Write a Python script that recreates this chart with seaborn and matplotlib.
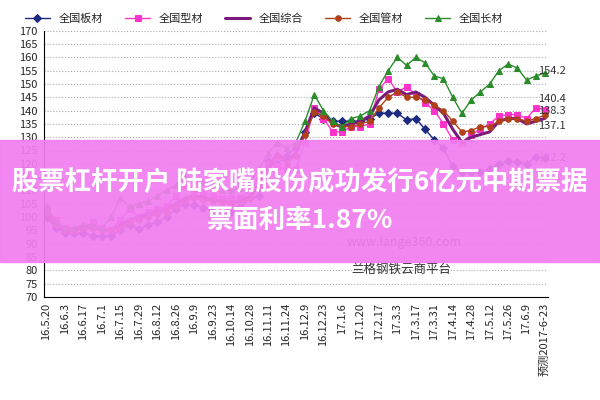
import pandas as pd
import matplotlib
matplotlib.use('Agg')
import matplotlib.pyplot as plt
import seaborn as sns

# 标签（每两周一个）
tick_labels = ['16.5.20', '16.6.3', '16.6.17', '16.7.1', '16.7.15', '16.7.29', '16.8.12',
               '16.8.26', '16.9.9', '16.9.23', '16.10.14', '16.10.28', '16.11.11', '16.11.24',
               '16.12.9', '16.12.23', '17.1.6', '17.1.20', '17.2.17', '17.3.3', '17.3.17',
               '17.3.31', '17.4.14', '17.4.28', '17.5.12', '17.5.26', '17.6.9', '预测2017-6-23']

banc = [100, 96, 94, 94, 94, 93, 93, 93, 95, 97,
        95.5, 97, 98, 100, 103, 105, 104.5, 103.5, 102.5, 102,
        102, 104, 107, 108, 121, 120, 123, 126, 132, 139,
        137, 136, 136, 136, 136, 137, 139, 139, 139, 136.5,
        137, 133, 129, 126, 119, 117, 117, 117, 118, 120,
        121, 120.5, 120, 122.5, 122.2]
xingc = [103, 99, 96, 95, 96, 98, 96, 95, 99, 103,
         100, 102, 103, 104, 108, 112, 110, 109, 108, 107,
         107, 107, 110, 114, 120, 119, 118, 118, 128, 141,
         137, 132, 132, 134, 134, 135, 148, 152, 147, 149,
         146, 143, 140, 135, 129, 128, 131, 133, 135, 138,
         138.5, 138.5, 137, 141, 140.4]
zongh = [102, 97, 95, 95, 96, 96, 95, 95, 97, 99,
         100, 101, 102, 103, 105, 107, 108, 107.5, 106.5, 106,
         105.5, 106, 108, 112, 118, 124, 121, 124, 132, 141,
         139, 135, 134, 135, 136, 138, 144, 147, 148, 146,
         147, 145, 142, 139, 133, 128, 130, 131, 132, 136,
         137, 137, 135, 136, 137.1]
guanc = [102, 97, 95, 95, 96, 96, 95, 95, 96, 98,
         99, 100, 101, 102, 104, 106, 107, 106.5, 106, 105.5,
         105, 105.5, 107, 111, 117, 123, 120, 123, 131, 139.5,
         138, 135, 134, 134, 135, 136, 141, 145, 147, 145,
         145, 144, 142, 140, 136, 132, 132.5, 134, 134, 136,
         137, 137, 136, 137, 138.3]
changc = [104, 98, 96, 96, 97, 97, 96, 100, 107, 104,
          105, 106, 108, 110, 112, 115, 114, 113, 112, 110,
          110, 111, 113, 118, 124, 128, 126, 128, 136, 146,
          140, 136, 134, 137, 138, 140, 149, 155, 160, 157,
          160, 158, 153, 152, 145, 139, 144, 147, 150, 155,
          157.5, 156, 151.5, 153, 154.2]

# 名称, 数据, 颜色, 标记, 线宽, 末端标注偏移
series = [('全国板材', banc, '#1c2a80', 'D', 1.0, 0),
          ('全国型材', xingc, '#ff33cc', 's', 1.0, 4),
          ('全国综合', zongh, '#7a1a7a', None, 2.2, -3),
          ('全国管材', guanc, '#b0401a', 'o', 1.0, 1.5),
          ('全国长材', changc, '#2a8c2a', '^', 1.0, 0.5)]

sns.set_style('white')
plt.rcParams['font.family'] = ['Noto Sans CJK SC', 'DejaVu Sans']

fig = plt.figure(figsize=(6, 4), dpi=100)
ax = fig.add_axes([0.073, 0.258, 0.84, 0.665])
x = list(range(len(banc)))
for name, vals, col, mk, lw, off in series:
    sns.lineplot(x=x, y=vals, ax=ax, color=col, marker=mk, markersize=4,
                 markeredgecolor=col, linewidth=lw, label=name)

ax.set_ylim(70, 170)
ax.set_yticks(range(70, 171, 5))
ax.set_xlim(-0.3, len(banc) - 0.7)
ax.set_xticks(x[::2])
ax.set_xticklabels(tick_labels, rotation=90, fontsize=8)
ax.tick_params(axis='y', labelsize=8, pad=1)
ax.tick_params(axis='x', pad=1)
ax.yaxis.grid(True, linestyle=':', color='#aaaaaa', linewidth=0.8)
for s in ['top', 'right']:
    ax.spines[s].set_visible(False)
ax.spines['left'].set_color('black')
ax.spines['bottom'].set_color('black')

for name, vals, col, mk, lw, off in series:
    ax.text(len(vals) - 1.8, vals[-1] + off, f'{vals[-1]}', fontsize=8, color='#333333', va='center')

ax.legend(loc='lower left', bbox_to_anchor=(-0.05, 1.0), ncol=5, frameon=False,
          fontsize=8, handlelength=2.2, columnspacing=2.0, borderaxespad=0.2)

ax.text(0.6, 0.19, 'www.lange360.com', transform=ax.transAxes, fontsize=9, color='#333333')
ax.text(0.61, 0.09, '兰格钢铁云商平台', transform=ax.transAxes, fontsize=9, color='#333333')

fig.patches.append(plt.Rectangle((0, 0.345), 1, 0.305, transform=fig.transFigure,
                                 color='#f27ef0', alpha=0.93, zorder=5))
fig.text(0.5, 0.545, '股票杠杆开户 陆家嘴股份成功发行6亿元中期票据', ha='center', va='center',
         fontsize=19, color='white', fontweight='bold', zorder=6)
fig.text(0.5, 0.45, '票面利率1.87%', ha='center', va='center',
         fontsize=19, color='white', fontweight='bold', zorder=6)

fig.savefig('out.png', dpi=100)
